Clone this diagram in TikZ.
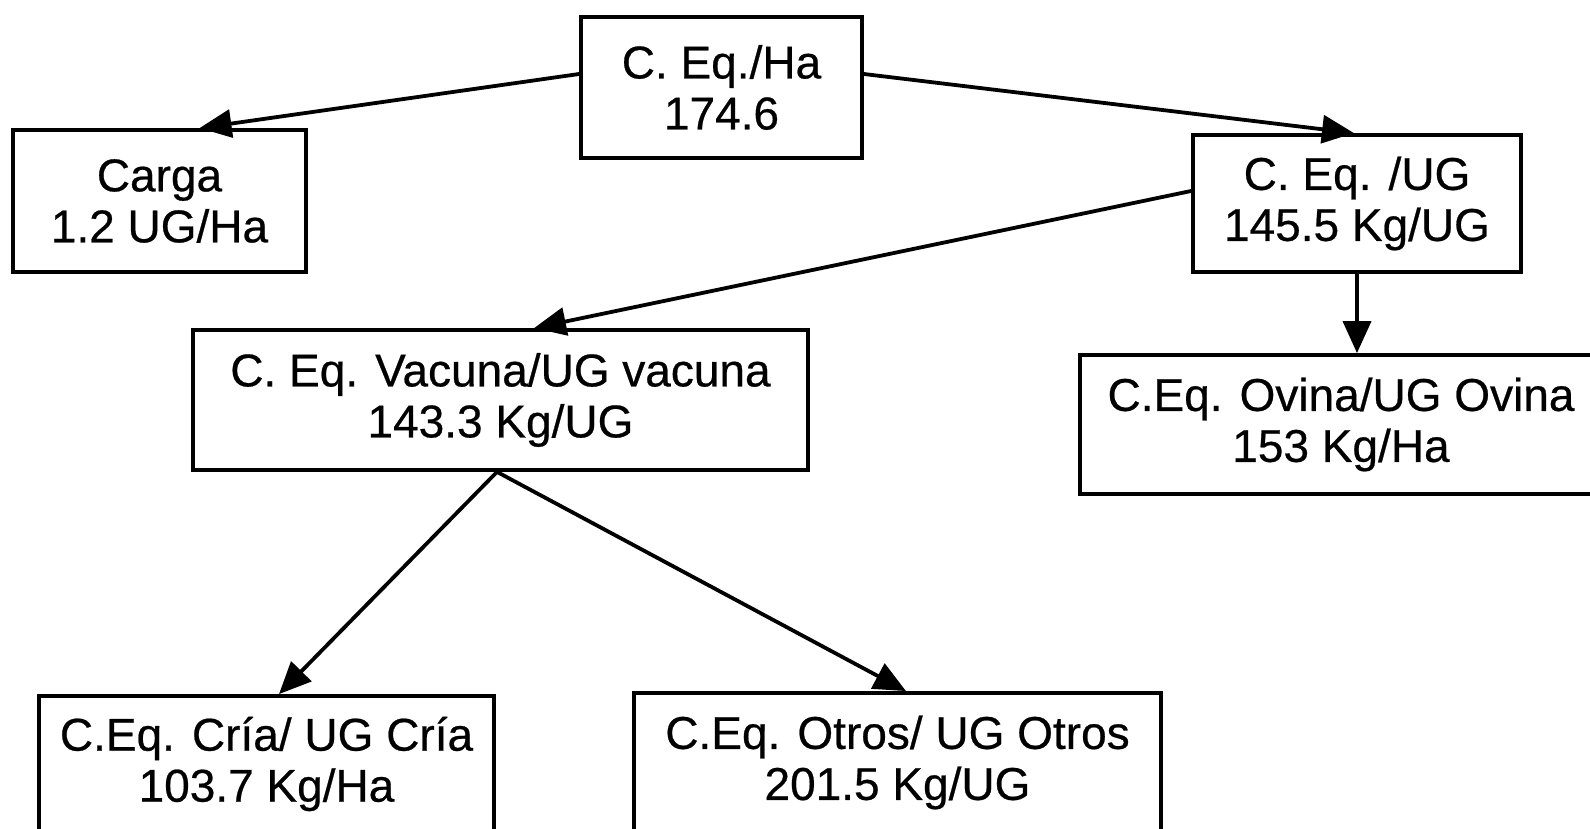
\documentclass[tikz,border=0pt]{standalone}
\usepackage{fontspec}
\newfontfamily\diagfont{Liberation Sans}[FakeBold=0.5]
\usetikzlibrary{arrows.meta}
\begin{document}
\begin{tikzpicture}[x=1pt,y=-1pt,
  box/.style={draw=black, line width=3.8pt, rectangle, align=center, inner sep=0pt,
    font=\diagfont\fontsize{46pt}{51pt}\selectfont},
  conn/.style={line width=3.8pt, -{Triangle[length=32pt,width=28pt]}}]
\useasboundingbox (0,0) rectangle (1590,829);
\fill[white] (0,0) rectangle (1590,829);
\clip (0,0) rectangle (1590,829);
\node[box, minimum width=281pt, minimum height=141pt] (top) at (721.5,87.5) {C. Eq./Ha\\174.6};
\node[box, minimum width=293pt, minimum height=142pt] (carga) at (159.5,201) {Carga\\1.2 UG/Ha};
\node[box, minimum width=328pt, minimum height=137pt] (ug) at (1357,203.5) {C. Eq. /UG\\145.5 Kg/UG};
\node[box, minimum width=615pt, minimum height=140pt] (vac) at (500.5,400) {C. Eq. Vacuna/UG vacuna\\143.3 Kg/UG};
\node[box, minimum width=522pt, minimum height=139pt] (ovi) at (1341,424.5) {C.Eq. Ovina/UG Ovina\\153 Kg/Ha};
\node[box, minimum width=455pt, minimum height=136pt] (cria) at (266.5,764) {C.Eq. Cría/ UG Cría\\103.7 Kg/Ha};
\node[box, minimum width=527pt, minimum height=139pt] (otros) at (897.5,762.5) {C.Eq. Otros/ UG Otros\\201.5 Kg/UG};
\draw[conn] ([yshift=13.5pt]top.west) -- ([xshift=40pt]carga.north);
\draw[conn] ([yshift=13.5pt]top.east) -- ([xshift=-3pt]ug.north);
\draw[conn] ([yshift=12.5pt]ug.west) -- ([xshift=33.5pt]vac.north);
\draw[conn] (ug.south) -- (ug.south |- ovi.north);
\draw[conn] ([xshift=-3.5pt]vac.south) -- ([xshift=12.5pt]cria.north);
\draw[conn] ([xshift=-3.5pt]vac.south) -- ([xshift=8.5pt]otros.north);
\end{tikzpicture}
\end{document}
